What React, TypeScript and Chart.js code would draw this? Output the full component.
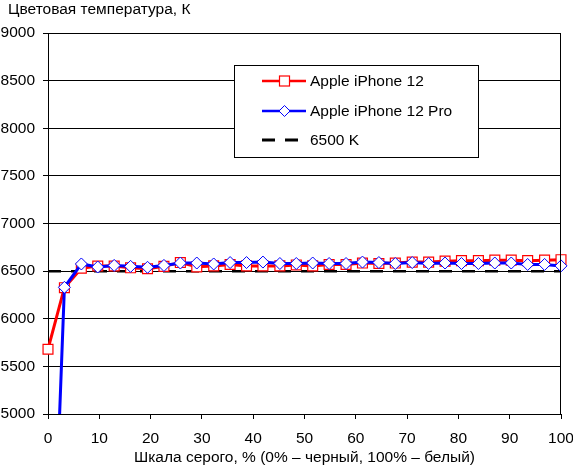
import React, { useEffect, useRef } from "react";
import { Chart, registerables } from "chart.js";

Chart.register(...registerables);

const xValues = [0, 3.2, 6.5, 9.7, 12.9, 16.1, 19.4, 22.6, 25.8, 29.0, 32.3, 35.5, 38.7, 41.9, 45.2, 48.4, 51.6, 54.8, 58.1, 61.3, 64.5, 67.7, 71.0, 74.2, 77.4, 80.6, 83.9, 87.1, 90.3, 93.5, 96.8, 100];
const iphone12 = [5680, 6326, 6530, 6554, 6554, 6535, 6525, 6550, 6590, 6545, 6555, 6570, 6555, 6555, 6555, 6565, 6555, 6570, 6570, 6585, 6580, 6585, 6595, 6595, 6605, 6610, 6610, 6615, 6615, 6610, 6615, 6620];
const iphone12Pro = [1780, 6330, 6575, 6543, 6560, 6550, 6540, 6560, 6585, 6585, 6575, 6590, 6590, 6595, 6580, 6580, 6585, 6580, 6580, 6595, 6590, 6580, 6590, 6580, 6585, 6580, 6580, 6585, 6585, 6570, 6570, 6555];
const refX = [0, 100];
const refY = [6500, 6500];
const seriesLabels = ["Apple iPhone 12", "Apple iPhone 12 Pro", "6500 K"];
const yTitle = "Цветовая температура, К";
const xTitle = "Шкала серого, % (0% – черный, 100% – белый)";

const FONT = "'Liberation Sans', Arial, sans-serif";
const FS = 15.5;

const decorPlugin = {
  id: "decor",
  afterDraw(chart: any) {
    const ctx = chart.ctx;
    const area = chart.chartArea;
    ctx.save();
    // title
    ctx.font = `${FS}px ${FONT}`;
    ctx.fillStyle = "#000";
    ctx.textBaseline = "middle";
    ctx.textAlign = "left";
    ctx.fillText(yTitle, 8, 10);
    // right border
    ctx.strokeStyle = "#000";
    ctx.lineWidth = 1;
    const rx = Math.round(area.right) - 0.5;
    ctx.beginPath();
    ctx.moveTo(rx, area.top);
    ctx.lineTo(rx, area.bottom);
    ctx.stroke();
    // legend
    const bx = 234.5, by = 65.5, bw = 244, bh = 92;
    ctx.fillStyle = "#fff";
    ctx.fillRect(bx, by, bw, bh);
    ctx.strokeRect(bx, by, bw, bh);
    const rows = [81, 111, 140];
    chart.data.datasets.forEach((ds: any, i: number) => {
      const y = rows[i];
      ctx.save();
      ctx.strokeStyle = ds.borderColor;
      ctx.lineWidth = i === 2 ? 3 : 2.5;
      if (i === 2) ctx.setLineDash([13, 10]);
      ctx.beginPath();
      ctx.moveTo(262, y);
      ctx.lineTo(i === 2 ? 299 : 306, y);
      ctx.stroke();
      ctx.restore();
      if (ds.pointStyle === "rect") {
        ctx.fillStyle = "#fff";
        ctx.fillRect(279.5, y - 5, 10, 10);
        ctx.strokeStyle = ds.borderColor;
        ctx.lineWidth = 1.2;
        ctx.strokeRect(279.5, y - 5, 10, 10);
      } else if (ds.pointStyle === "rectRot") {
        ctx.fillStyle = "#fff";
        ctx.strokeStyle = ds.borderColor;
        ctx.lineWidth = 1;
        ctx.beginPath();
        ctx.moveTo(284.5 - 5.5, y);
        ctx.lineTo(284.5, y - 5.5);
        ctx.lineTo(284.5 + 5.5, y);
        ctx.lineTo(284.5, y + 5.5);
        ctx.closePath();
        ctx.fill();
        ctx.stroke();
      }
      ctx.fillStyle = "#000";
      ctx.font = `${FS}px ${FONT}`;
      ctx.textBaseline = "middle";
      ctx.fillText(ds.label, 310, y + 1);
    });
    ctx.restore();
  },
};

export default function App() {
  const ref = useRef<HTMLCanvasElement | null>(null);
  useEffect(() => {
    document.body.style.margin = "0";
    const canvas = ref.current;
    if (!canvas) return;
    const chart = new Chart(canvas, {
      type: "line",
      data: {
        datasets: [
          {
            label: seriesLabels[0],
            data: xValues.map((x, i) => ({ x, y: iphone12[i] })),
            borderColor: "#ff0000",
            backgroundColor: "#ffffff",
            borderWidth: 3,
            pointStyle: "rect",
            pointRadius: 7,
            pointBorderWidth: 1.2,
            pointBorderColor: "#ff0000",
            pointBackgroundColor: "#ffffff",
            order: 2,
            clip: false,
          },
          {
            label: seriesLabels[1],
            data: xValues.map((x, i) => ({ x, y: iphone12Pro[i] })),
            borderColor: "#0000ff",
            backgroundColor: "#ffffff",
            borderWidth: 3,
            pointStyle: "rectRot",
            pointRadius: 6,
            pointBorderWidth: 1,
            pointBorderColor: "#0000ff",
            pointBackgroundColor: "#ffffff",
            order: 1,
            clip: { left: false, right: false, top: false, bottom: 0 },
          },
          {
            label: seriesLabels[2],
            data: refX.map((x, i) => ({ x, y: refY[i] })),
            borderColor: "#000000",
            borderWidth: 2.5,
            borderDash: [13, 10],
            pointRadius: 0,
            order: 3,
          },
        ],
      },
      options: {
        animation: false,
        responsive: false,
        devicePixelRatio: 1,
        layout: { padding: { top: 33, right: 12, left: 0, bottom: 0 } },
        plugins: {
          legend: { display: false },
          tooltip: { enabled: false },
          title: { display: false },
        },
        scales: {
          x: {
            type: "linear",
            min: 0,
            max: 100,
            afterFit: (s: any) => { s.height = 53; s.paddingLeft = 0; s.paddingRight = 0; },
            ticks: { stepSize: 10, color: "#000", font: { family: FONT, size: FS }, padding: 10, maxRotation: 0 },
            grid: { drawOnChartArea: false, drawTicks: true, tickLength: 5, color: "#000", lineWidth: 1 },
            border: { color: "#000", width: 1 },
            title: { display: true, text: xTitle, color: "#000", font: { family: FONT, size: FS }, padding: { top: 0, bottom: 0 } },
          },
          y: {
            type: "linear",
            min: 5000,
            max: 9000,
            afterFit: (s: any) => { s.width = 48; s.paddingTop = 0; s.paddingBottom = 0; },
            ticks: { stepSize: 500, color: "#000", font: { family: FONT, size: FS }, padding: 8, callback: (v: any) => String(v) },
            grid: { color: "#000", lineWidth: 1, tickLength: 5 },
            border: { color: "#000", width: 1 },
          },
        },
      },
      plugins: [decorPlugin],
    });
    return () => chart.destroy();
  }, []);
  return (
    <div style={{ width: 573, height: 467 }}>
      <canvas ref={ref} width={573} height={467} />
    </div>
  );
}
